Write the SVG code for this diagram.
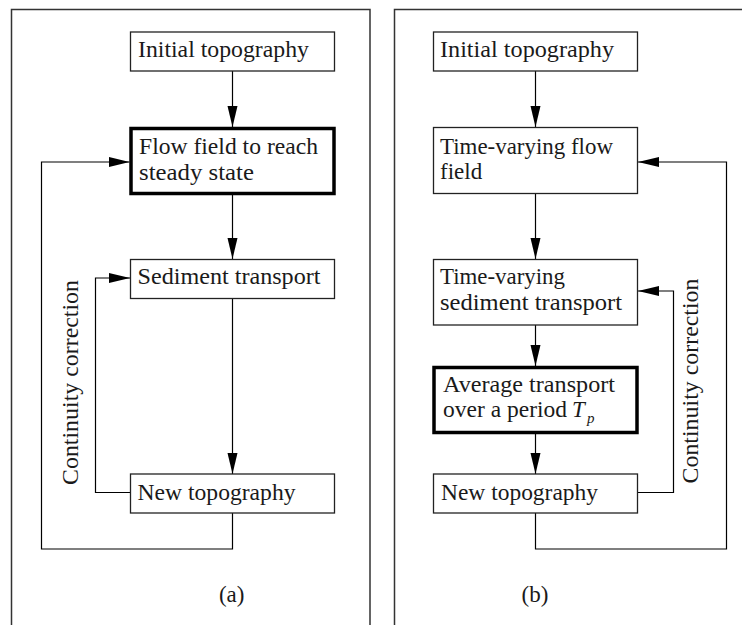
<svg xmlns="http://www.w3.org/2000/svg" width="742" height="625" viewBox="0 0 742 625">
<style>
.frame{fill:none;stroke:#333;stroke-width:1.5}
.box{fill:#fff;stroke:#222;stroke-width:1.3}
.thick{fill:#fff;stroke:#000;stroke-width:3.5}
text{font-family:'Liberation Serif','Times New Roman','DejaVu Serif',serif;font-size:23px;fill:#1a1a1a}
.c{fill:none;stroke:#000;stroke-width:1.2}
</style>
<defs>
<marker id="ah" markerUnits="userSpaceOnUse" markerWidth="22" markerHeight="11" refX="21" refY="5" orient="auto">
<path d="M0,0 L21,5 L0,10 z" fill="#000"/>
</marker>
</defs>
<rect width="742" height="625" fill="#fff"/>
<path class="frame" d="M11.5,625 V9.5 H370 V625"/>
<path class="frame" d="M394.5,625 V9.5 H742"/>

<g id="connectors" font-family="Liberation Serif, serif">
<path class="c" d="M232.5,71 V127" marker-end="url(#ah)"/>
<path class="c" d="M232.5,195 V259" marker-end="url(#ah)"/>
<path class="c" d="M232.5,298.5 V474" marker-end="url(#ah)"/>
<path class="c" d="M232.5,513 V549 H41.5 V162 H129.5" marker-end="url(#ah)"/>
<path class="c" d="M130,492.5 H95.5 V278 H130" marker-end="url(#ah)"/>
<path class="c" d="M535.5,71 V127" marker-end="url(#ah)"/>
<path class="c" d="M535.5,193.5 V259" marker-end="url(#ah)"/>
<path class="c" d="M535.5,325 V366" marker-end="url(#ah)"/>
<path class="c" d="M535.5,434 V474" marker-end="url(#ah)"/>
<path class="c" d="M535.5,513 V549 H726.5 V162 H638" marker-end="url(#ah)"/>
<path class="c" d="M637.5,492.5 H673.5 V291 H638" marker-end="url(#ah)"/>
<text transform="translate(78,382.5) rotate(-90)" text-anchor="middle" textLength="205" lengthAdjust="spacingAndGlyphs">Continuity correction</text>
<text transform="translate(698,381) rotate(-90)" text-anchor="middle" textLength="205" lengthAdjust="spacingAndGlyphs">Continuity correction</text>
</g>

<g id="a_initial">
<rect class="box" x="130.5" y="32" width="204" height="39"/>
<text x="138" y="57" textLength="171" lengthAdjust="spacingAndGlyphs">Initial topography</text>
</g>
<g id="a_flow">
<rect class="thick" x="131" y="128.5" width="203" height="65"/>
<text x="139" y="154" textLength="179" lengthAdjust="spacingAndGlyphs">Flow field to reach</text>
<text x="139" y="180" textLength="115" lengthAdjust="spacingAndGlyphs">steady state</text>
</g>
<g id="a_sediment">
<rect class="box" x="130.5" y="259.5" width="204" height="39"/>
<text x="137.5" y="284" textLength="183" lengthAdjust="spacingAndGlyphs">Sediment transport</text>
</g>
<g id="a_new">
<rect class="box" x="130.5" y="474" width="204" height="39"/>
<text x="137.5" y="500" textLength="158" lengthAdjust="spacingAndGlyphs">New topography</text>
</g>
<text x="231.7" y="602" text-anchor="middle">(a)</text>

<g id="b_initial">
<rect class="box" x="433.5" y="32" width="204" height="39"/>
<text x="440" y="57" textLength="174" lengthAdjust="spacingAndGlyphs">Initial topography</text>
</g>
<g id="b_flow">
<rect class="box" x="433.5" y="127.5" width="204" height="66"/>
<text x="440" y="154" textLength="173" lengthAdjust="spacingAndGlyphs">Time-varying flow</text>
<text x="440" y="179">field</text>
</g>
<g id="b_sediment">
<rect class="box" x="433.5" y="259.5" width="204" height="65.5"/>
<text x="440" y="283.5" textLength="125" lengthAdjust="spacingAndGlyphs">Time-varying</text>
<text x="440" y="310" textLength="182" lengthAdjust="spacingAndGlyphs">sediment transport</text>
</g>
<g id="b_average">
<rect class="thick" x="434" y="367.5" width="203" height="65"/>
<text x="443" y="391.7" textLength="172" lengthAdjust="spacingAndGlyphs">Average transport</text>
<text x="443" y="416.7"><tspan textLength="124" lengthAdjust="spacingAndGlyphs">over a period</tspan><tspan x="572" font-style="italic">T</tspan><tspan x="587" dy="6" font-size="15" font-style="italic">p</tspan></text>
</g>
<g id="b_new">
<rect class="box" x="433.5" y="474" width="204" height="39"/>
<text x="441" y="500" textLength="157" lengthAdjust="spacingAndGlyphs">New topography</text>
</g>
<text x="535" y="602" text-anchor="middle">(b)</text>
</svg>
